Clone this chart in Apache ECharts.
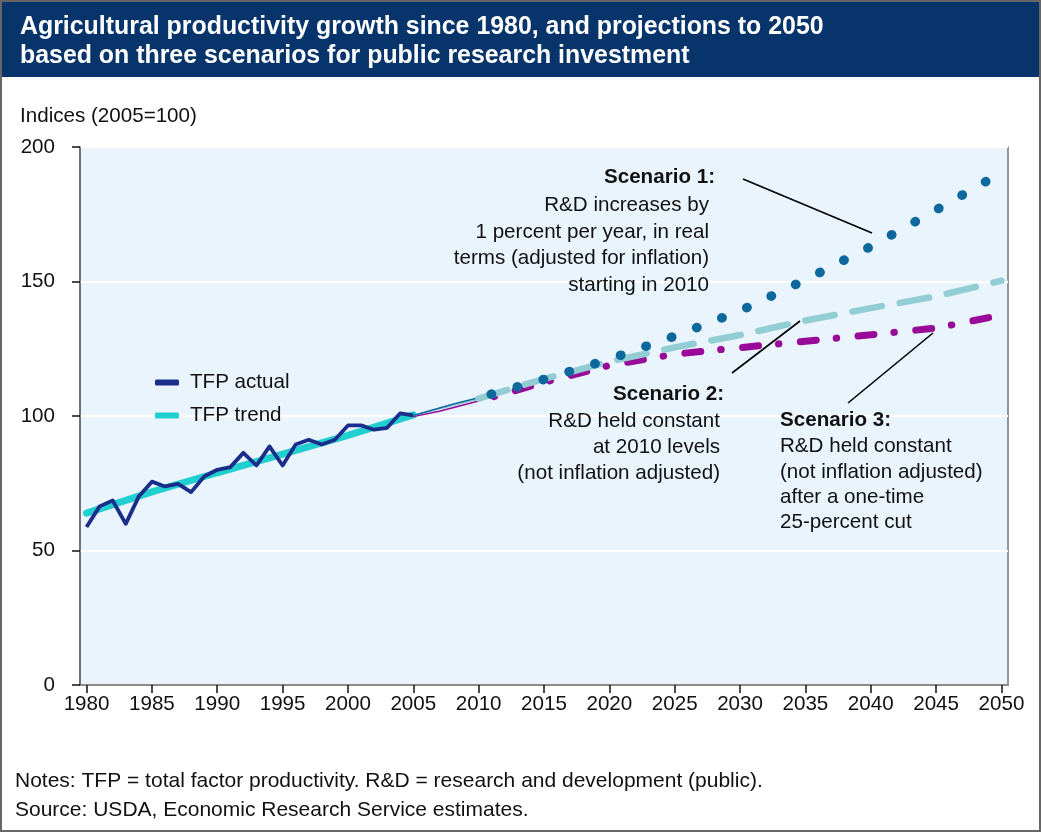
<!DOCTYPE html>
<html>
<head>
<meta charset="utf-8">
<script src="https://cdn.jsdelivr.net/npm/echarts@6/dist/echarts.min.js"></script>
<style>
html,body{margin:0;padding:0;background:#fff;}
#chart{width:1041px;height:832px;}
</style>
</head>
<body>
<div id="chart"></div>
<script>
// ---- Data ----
const categories = [];
for (let y = 1980; y <= 2050; y++) categories.push(String(y));

const actualYears = [1980,1981,1982,1983,1984,1985,1986,1987,1988,1989,1990,1991,1992,1993,1994,1995,1996,1997,1998,1999,2000,2001,2002,2003,2004,2005];
const actualValues = [58.7,66.4,68.6,59.9,70.1,75.6,73.8,74.8,71.7,77.5,80.0,81.0,86.3,81.6,88.7,81.6,89.4,91.2,89.4,91.2,96.5,96.5,94.9,95.6,101.0,100.2];

const trendYears = [1980,1985,1990,1995,2000,2005];
const trendValues = [63.9,71.8,78.9,85.8,92.8,100.4];

const s1ThinYears = [2005,2006,2008,2010];
const s1ThinValues = [100.2,101.6,104.4,106.8];
const s2ThinYears = [2005,2010];
const s2ThinValues = [100.2,106.2];
const s3ThinYears = [2005,2007,2010];
const s3ThinValues = [99.8,101.8,105.6];

const projYears = [2010,2015,2020,2025,2030,2035,2040,2045,2050];
const scenario1 = [106.8,113.6,121.1,129.7,139.1,150.6,163.0,176.6,190.5];
const scenario2 = [106.5,113.8,120.2,125.5,130.1,135.5,140.1,144.5,150.3];
const scenario3 = [105.6,112.5,118.8,123.0,125.4,127.8,130.2,132.7,137.5];

const yTicks = [0,50,100,150,200];

// ---- Helpers ----
function pairs(years, vals){ return years.map((y,i)=>[categories.indexOf(String(y)), vals[i]]); }
const FONT = '"Liberation Sans", Arial, Helvetica, sans-serif';
const C_ACT = '#1b2d8a', C_TREND = '#22cfd0', C_S1 = '#0d699d', C_S2 = '#92cdd3', C_S3 = '#990a99';

function txt(x, y, s, align, bold, size){
  return {type:'text', x:x, y:y, z:100, style:{text:s, fill:'#111', font:(bold?'bold ':'')+(size||20.6)+'px '+FONT, textAlign:align, textVerticalAlign:'middle'}};
}
function ln(x1,y1,x2,y2){
  return {type:'line', z:100, shape:{x1:x1,y1:y1,x2:x2,y2:y2}, style:{stroke:'#000', lineWidth:1.6}};
}

const chart = echarts.init(document.getElementById('chart'));
chart.setOption({
  animation:false,
  textStyle:{fontFamily:FONT},
  title:{
    text:'Agricultural productivity growth since 1980, and projections to 2050\nbased on three scenarios for public research investment',
    left:15, top:8,
    textStyle:{color:'#fff', fontSize:24.9, fontWeight:'bold', lineHeight:29, fontFamily:FONT}
  },
  grid:{left:80, right:33, top:147, bottom:147, show:true, backgroundColor:'#eaf4fd', borderColor:'#777', borderWidth:1.5},
  legend:{
    orient:'vertical', left:155, top:372, padding:0, itemWidth:24, itemHeight:6, itemGap:12,
    data:[{name:'TFP actual', icon:'roundRect'},{name:'TFP trend', icon:'roundRect'}],
    textStyle:{fontSize:20.6, color:'#111', fontFamily:FONT, padding:[0,0,0,6]}
  },
  xAxis:{
    type:'category', data:categories, boundaryGap:true,
    axisLine:{show:true, lineStyle:{color:'#666', width:1.5}},
    axisTick:{show:true, interval:4, alignWithLabel:true, length:8, lineStyle:{color:'#111', width:1.5}},
    axisLabel:{interval:4, fontSize:20.6, color:'#111', margin:9, fontFamily:FONT},
    splitLine:{show:false}
  },
  yAxis:{
    type:'value', min:0, max:200, interval:50,
    axisLine:{show:true, lineStyle:{color:'#666', width:1.5}},
    axisTick:{show:true, length:8, lineStyle:{color:'#111', width:1.5}},
    axisLabel:{fontSize:20.6, color:'#111', margin:25, fontFamily:FONT},
    splitLine:{show:true, lineStyle:{color:'#fff', width:2}}
  },
  series:[
    {name:'TFP trend', type:'line', data:pairs(trendYears, trendValues), symbol:'none', z:2,
      itemStyle:{color:C_TREND}, lineStyle:{color:C_TREND, width:7, cap:'round'}},
    {name:'TFP actual', type:'line', data:pairs(actualYears, actualValues), symbol:'none', z:3,
      itemStyle:{color:C_ACT}, lineStyle:{color:C_ACT, width:3.8, join:'round'}},
    {name:'Scenario 3 (2005-2010)', type:'line', data:pairs(s3ThinYears, s3ThinValues), symbol:'none', z:4,
      itemStyle:{color:C_S3}, lineStyle:{color:C_S3, width:1.5}},
    {name:'Scenario 2 (2005-2010)', type:'line', data:pairs(s2ThinYears, s2ThinValues), symbol:'none', z:4,
      itemStyle:{color:C_S2}, lineStyle:{color:C_S2, width:1.5}},
    {name:'Scenario 1 (2005-2010)', type:'line', data:pairs(s1ThinYears, s1ThinValues), symbol:'none', z:4,
      itemStyle:{color:C_S1}, lineStyle:{color:C_S1, width:1.5}},
    {name:'Scenario 3', type:'line', data:pairs(projYears, scenario3), symbol:'none', z:5,
      itemStyle:{color:C_S3}, lineStyle:{color:C_S3, width:7, cap:'round', type:[16,20,0.5,21.5], dashOffset:20}},
    {name:'Scenario 2', type:'line', data:pairs(projYears, scenario2), symbol:'none', z:6,
      itemStyle:{color:C_S2}, lineStyle:{color:C_S2, width:6.5, cap:'round', type:[30,18]}},
    {name:'Scenario 1', type:'line', data:pairs(projYears, scenario1), symbol:'none', z:7,
      itemStyle:{color:C_S1}, lineStyle:{color:C_S1, width:9.5, cap:'round', type:[0.5,26.5], dashOffset:14}}
  ],
  graphic:[
    {type:'rect', z:-10, shape:{x:0, y:0, width:1041, height:77}, style:{fill:'#07346a'}},
    {type:'rect', z:200, shape:{x:1, y:1, width:1039, height:830}, style:{fill:null, stroke:'#666', lineWidth:2}},
    txt(20, 116, 'Indices (2005=100)', 'left', false),
    txt(15, 781, 'Notes: TFP = total factor productivity. R&D = research and development (public).', 'left', false, 21),
    txt(15, 810, 'Source: USDA, Economic Research Service estimates.', 'left', false, 21),
    // Scenario 1 annotation
    txt(715, 177, 'Scenario 1:', 'right', true),
    txt(709, 205, 'R&D increases by', 'right', false),
    txt(709, 232, '1 percent per year, in real', 'right', false),
    txt(709, 258.5, 'terms (adjusted for inflation)', 'right', false),
    txt(709, 285, 'starting in 2010', 'right', false),
    ln(743, 179, 872, 233),
    // Scenario 2 annotation
    txt(724, 394, 'Scenario 2:', 'right', true),
    txt(720, 421, 'R&D held constant', 'right', false),
    txt(720, 447, 'at 2010 levels', 'right', false),
    txt(720, 473, '(not inflation adjusted)', 'right', false),
    ln(732, 373, 800, 321),
    // Scenario 3 annotation
    txt(780, 420, 'Scenario 3:', 'left', true),
    txt(780, 446, 'R&D held constant', 'left', false),
    txt(780, 472, '(not inflation adjusted)', 'left', false),
    txt(780, 497, 'after a one-time', 'left', false),
    txt(780, 522, '25-percent cut', 'left', false),
    ln(848, 403, 933, 333)
  ]
});
</script>
</body>
</html>
